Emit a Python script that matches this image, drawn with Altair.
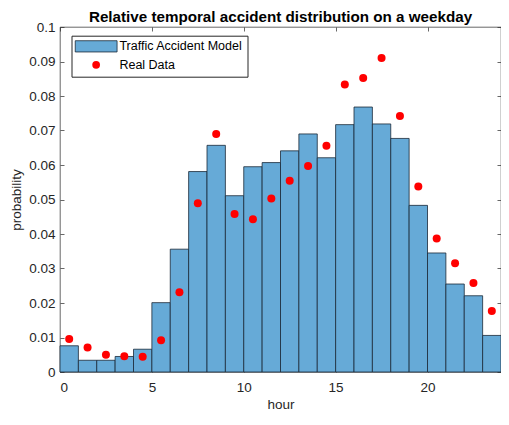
import altair as alt
import pandas as pd

hours = list(range(24))
model = [0.0076, 0.0034, 0.0034, 0.0045, 0.0066, 0.0201, 0.0356, 0.0581, 0.0657,
         0.0511, 0.0595, 0.0607, 0.0641, 0.0690, 0.0621, 0.0717, 0.0768, 0.0719,
         0.0677, 0.0483, 0.0345, 0.0255, 0.0221, 0.0106]
real = [0.0096, 0.0071, 0.0050, 0.0046, 0.0044, 0.0092, 0.0231, 0.0489, 0.0690,
        0.0458, 0.0443, 0.0503, 0.0554, 0.0597, 0.0656, 0.0833, 0.0852, 0.0910,
        0.0742, 0.0538, 0.0387, 0.0315, 0.0258, 0.0177]
series_names = ["Traffic Accident Model", "Real Data"]

df = pd.DataFrame({
    "hour": hours * 2,
    "value": model + real,
    "series": [series_names[0]] * 24 + [series_names[1]] * 24,
})

FONT = "Liberation Sans"
AX = "#262626"
BAR_FILL = "#66AAD7"
EDGE = "#1B2837"
RECT_PATH = "M-5.4,-1.45H5.4V1.45H-5.4Z"

xscale = alt.Scale(domain=[0, 24], nice=False, zero=False, padding=0)
yscale = alt.Scale(domain=[0, 0.1], nice=False, padding=0)
color_scale = alt.Scale(domain=series_names, range=[BAR_FILL, "#FF0000"])
shape_scale = alt.Scale(domain=series_names, range=[RECT_PATH, "circle"])
stroke_scale = alt.Scale(domain=series_names, range=[EDGE, "rgba(0,0,0,0)"])

legend = alt.Legend(
    title=None, orient="none", legendX=11.5, legendY=8.7,
    labelFont=FONT, labelFontSize=12.5, labelColor="#000000",
    strokeColor=AX, fillColor="#FFFFFF", padding=4.4, rowPadding=4.5,
    symbolSize=60, labelOffset=17, symbolOffset=14,
    symbolStrokeWidth=0.8, symbolOpacity=1,
)

bars = alt.Chart(df).transform_filter(
    alt.datum.series == series_names[0]
).transform_calculate(
    hour_end="datum.hour + 1"
).mark_bar(strokeWidth=0.8, opacity=1, orient="vertical").encode(
    x=alt.X("hour:Q", scale=xscale, axis=alt.Axis(
        orient="bottom", values=[0, 5, 10, 15, 20], format="d", title="hour",
        grid=False, domain=False, offset=-4, tickSize=4, labelPadding=8,
        titlePadding=4)),
    x2="hour_end:Q",
    y=alt.Y("value:Q", scale=yscale, axis=alt.Axis(
        orient="left", values=[i / 100 for i in range(11)], format=".2~f",
        title="probability", grid=False, domain=False, offset=-4, tickSize=4,
        labelPadding=5, titlePadding=5.5)),
    y2=alt.datum(0),
    color=alt.Color("series:N", scale=color_scale, legend=legend),
    stroke=alt.Stroke("series:N", scale=stroke_scale, legend=legend),
)

points = alt.Chart(df).transform_filter(
    alt.datum.series == series_names[1]
).transform_calculate(
    hour_mid="datum.hour + 0.5"
).mark_point(filled=True, size=64, opacity=1, strokeWidth=0.8).encode(
    x=alt.X("hour_mid:Q", scale=xscale, axis=alt.Axis(
        orient="top", values=[0, 5, 10, 15, 20], labels=False, title=None,
        grid=False, domain=False, offset=-4, tickSize=4)),
    y=alt.Y("value:Q", scale=yscale, axis=alt.Axis(
        orient="right", values=[i / 100 for i in range(11)], labels=False,
        title=None, grid=False, domain=False, offset=-4, tickSize=4)),
    color=alt.Color("series:N", scale=color_scale, legend=legend),
    shape=alt.Shape("series:N", scale=shape_scale, legend=legend),
    stroke=alt.Stroke("series:N", scale=stroke_scale, legend=legend),
)

chart = alt.layer(bars, points).resolve_axis(
    x="independent", y="independent"
).properties(
    width=441,
    height=345,
    title=alt.Title("Relative temporal accident distribution on a weekday",
                    fontSize=15.2, fontWeight="bold", font=FONT, color="#000000",
                    offset=4.3, dy=9, anchor="middle"),
    autosize=alt.AutoSizeParams(type="none"),
    padding={"left": 52, "top": 19, "right": 0, "bottom": 40},
).configure_view(
    stroke=AX, strokeWidth=0.7
).configure_axis(
    labelFont=FONT, labelFontSize=13.5, labelColor=AX, tickColor=AX,
    tickWidth=0.7, titleFont=FONT, titleFontSize=13.5, titleFontWeight="normal",
    titleColor=AX,
)

chart.save("out.html", embed_options={"renderer": "svg", "actions": False})
